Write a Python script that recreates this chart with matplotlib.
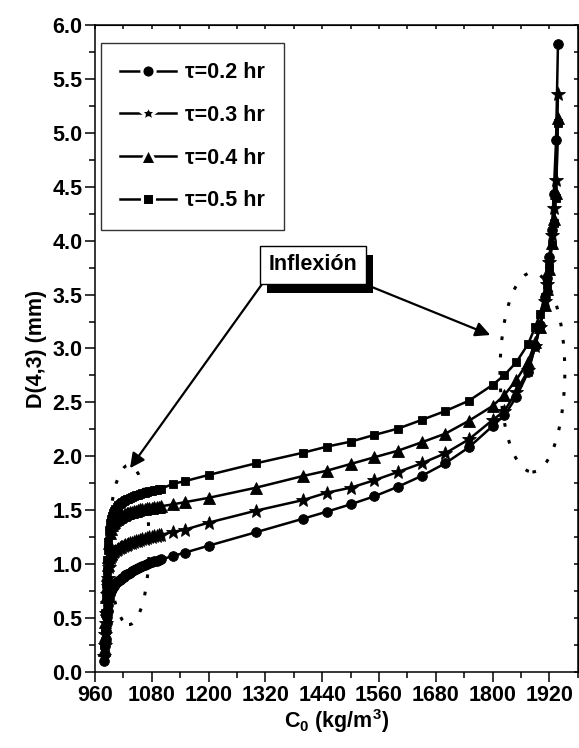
import numpy as np
import matplotlib
matplotlib.use("Agg")
import matplotlib.pyplot as plt
from matplotlib.patches import Ellipse
from matplotlib.lines import Line2D
from matplotlib.ticker import MultipleLocator
import matplotlib.patheffects as pe

plt.rcParams['font.family'] = ['Liberation Sans', 'DejaVu Sans']
plt.rcParams['font.weight'] = 'bold'
plt.rcParams['mathtext.fontset'] = 'custom'
plt.rcParams['mathtext.rm'] = 'Liberation Sans:bold'
plt.rcParams['mathtext.bf'] = 'Liberation Sans:bold'
plt.rcParams['mathtext.it'] = 'Liberation Sans:bold'

# -- Data --------------------------------------------------------------------
# C0 values, shared by all four curves
c0_dense = [980, 981, 982, 983, 984, 985, 986, 987, 988, 990, 992, 994, 996, 998,
            1000, 1003, 1006, 1009, 1012, 1015, 1018, 1021, 1024, 1027, 1030,
            1034, 1038, 1042, 1046, 1050, 1055, 1060, 1065, 1070, 1075, 1080,
            1085, 1090, 1095, 1100]
c0_sparse = [1125, 1150, 1200, 1300, 1400, 1450, 1500, 1550, 1600, 1650, 1700,
             1750, 1800, 1825, 1850, 1875]
c0_tail = [1890, 1900, 1910, 1915, 1920, 1925, 1929, 1934, 1938]

# tau = 0.2 hr
d02_dense = [0.10, 0.17, 0.24, 0.31, 0.38, 0.45, 0.51, 0.57, 0.62, 0.68, 0.72, 0.75,
             0.77, 0.785, 0.80, 0.815, 0.83, 0.845, 0.855, 0.865, 0.875, 0.885,
             0.895, 0.905, 0.912, 0.922, 0.932, 0.942, 0.952, 0.96, 0.97, 0.98,
             0.99, 1.00, 1.01, 1.018, 1.025, 1.032, 1.038, 1.044]
d02_sparse = [1.076, 1.107, 1.171, 1.296, 1.422, 1.487, 1.555, 1.629, 1.718, 1.818,
              1.935, 2.084, 2.281, 2.38, 2.55, 2.78]
d02_tail = [3.02, 3.22, 3.48, 3.65, 3.85, 4.10, 4.43, 4.93, 5.82]

# tau = 0.3 hr
d03_dense = [0.15, 0.25, 0.35, 0.45, 0.55, 0.64, 0.72, 0.80, 0.87, 0.97, 1.03, 1.06,
             1.08, 1.095, 1.11, 1.12, 1.13, 1.14, 1.148, 1.155, 1.162, 1.168,
             1.175, 1.18, 1.186, 1.193, 1.20, 1.206, 1.212, 1.218, 1.224, 1.23,
             1.236, 1.242, 1.248, 1.253, 1.258, 1.263, 1.268, 1.272]
d03_sparse = [1.30, 1.32, 1.385, 1.496, 1.595, 1.663, 1.709, 1.778, 1.855, 1.935,
              2.028, 2.158, 2.337, 2.42, 2.60, 2.80]
d03_tail = [3.02, 3.20, 3.44, 3.60, 3.80, 4.05, 4.30, 4.56, 5.36]

# tau = 0.4 hr
d04_dense = [0.20, 0.33, 0.46, 0.58, 0.70, 0.80, 0.90, 0.99, 1.07, 1.20, 1.29, 1.33,
             1.36, 1.38, 1.395, 1.41, 1.42, 1.43, 1.438, 1.445, 1.452, 1.458,
             1.464, 1.47, 1.475, 1.481, 1.487, 1.492, 1.497, 1.502, 1.507, 1.511,
             1.515, 1.519, 1.522, 1.525, 1.528, 1.531, 1.534, 1.537]
d04_sparse = [1.555, 1.575, 1.615, 1.709, 1.818, 1.867, 1.929, 1.991, 2.052, 2.13,
              2.21, 2.33, 2.467, 2.569, 2.708, 2.878]
d04_tail = [3.06, 3.20, 3.40, 3.55, 3.74, 3.98, 4.20, 4.44, 5.14]

# tau = 0.5 hr
d05_dense = [0.25, 0.40, 0.55, 0.69, 0.82, 0.94, 1.04, 1.13, 1.21, 1.32, 1.38, 1.42,
             1.45, 1.475, 1.495, 1.515, 1.53, 1.545, 1.557, 1.567, 1.577, 1.586,
             1.594, 1.601, 1.608, 1.616, 1.624, 1.632, 1.639, 1.645, 1.652, 1.658,
             1.664, 1.67, 1.676, 1.681, 1.686, 1.691, 1.696, 1.70]
d05_sparse = [1.745, 1.77, 1.827, 1.935, 2.034, 2.09, 2.136, 2.198, 2.257, 2.337,
              2.42, 2.516, 2.662, 2.754, 2.872, 3.042]
d05_tail = [3.20, 3.32, 3.48, 3.60, 3.76, 3.96, 4.16, 4.40, 5.09]

labels = ['τ=0.2 hr', 'τ=0.3 hr', 'τ=0.4 hr', 'τ=0.5 hr']

c0 = np.array(c0_dense + c0_sparse + c0_tail)
series = [
    np.array(d02_dense + d02_sparse + d02_tail),
    np.array(d03_dense + d03_sparse + d03_tail),
    np.array(d04_dense + d04_sparse + d04_tail),
    np.array(d05_dense + d05_sparse + d05_tail),
]
markers = ['o', '*', '^', 's']
msizes = [7, 10, 8.5, 6]

FS = 15.5

# -- Figure -------------------------------------------------------------------
fig = plt.figure(figsize=(5.79, 7.48), dpi=100)
ax = fig.add_axes([0.164, 0.1016, 0.834, 0.8650])

for y, mk, ms in zip(series, markers, msizes):
    ax.plot(c0, y, color='black', lw=1.8, marker=mk, ms=ms, mfc='black',
            mec='black', mew=0.6, zorder=3)

ax.set_xlim(960, 1980)
ax.set_ylim(0, 6)
ax.xaxis.set_major_locator(MultipleLocator(120))
ax.xaxis.set_minor_locator(MultipleLocator(60))
ax.yaxis.set_major_locator(MultipleLocator(0.5))
ax.yaxis.set_minor_locator(MultipleLocator(0.25))
ax.yaxis.set_major_formatter(matplotlib.ticker.FormatStrFormatter('%.1f'))
ax.tick_params(which='major', direction='out', length=7, width=1.1,
               labelsize=FS, pad=2)
ax.tick_params(which='minor', direction='out', length=4, width=1.1)
for s in ax.spines.values():
    s.set_linewidth(1.1)

# inward ticks on top / right
secx = ax.secondary_xaxis('top')
secx.xaxis.set_major_locator(MultipleLocator(60))
secx.tick_params(direction='in', length=3, width=1.1, labeltop=False)
secy = ax.secondary_yaxis('right')
secy.yaxis.set_major_locator(MultipleLocator(0.25))
secy.tick_params(direction='in', length=3, width=1.1, labelright=False)

ax.set_xlabel(r'C$_\mathbf{0}$ (kg/m$^\mathbf{3}$)', fontsize=FS, fontweight='bold', labelpad=1)
ax.set_ylabel('D(4,3) (mm)', fontsize=FS, fontweight='bold', labelpad=4)

# dotted ellipses
ax.add_patch(Ellipse((1884, 2.78), 137, 1.85, fill=False, ec='black', lw=2.2,
                     ls=(0, (1.2, 4.5)), zorder=1))
ax.add_patch(Ellipse((1032, 1.18), 85, 1.48, fill=False, ec='black', lw=2.2,
                     ls=(0, (1.2, 4.5)), zorder=1))

# annotation
t = ax.text(1421, 3.775, 'Inflexión', ha='center', va='center', fontsize=FS,
            fontweight='bold', zorder=5,
            bbox=dict(boxstyle='square,pad=0.4', fc='white', ec='black', lw=1))
t.get_bbox_patch().set_path_effects([
    pe.SimplePatchShadow(offset=(5, -6.5), shadow_rgbFace='black', alpha=1),
    pe.Normal()])
arrow = dict(arrowstyle='-|>', color='black', lw=1.6, mutation_scale=22,
             shrinkA=0, shrinkB=0)
ax.annotate('', xy=(1034, 1.89), xytext=(1315, 3.61), arrowprops=arrow, zorder=4)
ax.annotate('', xy=(1795, 3.125), xytext=(1503, 3.645), arrowprops=arrow, zorder=4)

# legend
handles = [Line2D([], [], color='black', lw=1.8, marker=mk, ms=ms,
                  mfc='black', mec='white', mew=2.2)
           for mk, ms in zip(markers, [9.5, 14, 11, 9])]
leg = ax.legend(handles, labels, loc='upper left', bbox_to_anchor=(0.012, 0.972),
                borderaxespad=0, fancybox=False, frameon=True,
                handlelength=2.6, handletextpad=0.4, labelspacing=1.0, borderpad=0.9,
                prop={'weight': 'bold', 'size': FS})
leg.get_frame().set_edgecolor('black')
leg.get_frame().set_linewidth(1)

fig.savefig('out.png', dpi=100)
